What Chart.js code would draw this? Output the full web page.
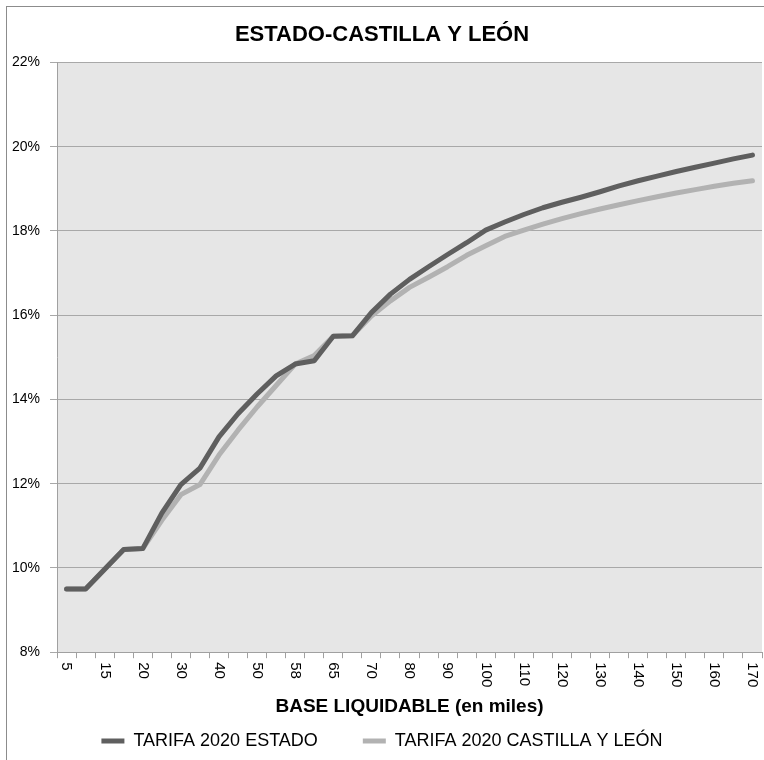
<!DOCTYPE html>
<html>
<head>
<meta charset="utf-8">
<script src="https://cdn.jsdelivr.net/npm/chart.js@4"></script>
<style>
  body { margin: 0; background: #fff; }
  #wrap { position: relative; width: 764px; height: 760px; overflow: hidden; }
  #marco { position: absolute; left: 6px; top: 6px; width: 800px; height: 800px;
           border-left: 1px solid #8c8c8c; border-top: 1px solid #8c8c8c; pointer-events: none; }
</style>
</head>
<body>
<div id="wrap">
  <canvas id="grafica" width="764" height="760"></canvas>
  <div id="marco"></div>
</div>
<script>
// Base liquidable (miles de euros); solo se rotulan las posiciones pares
const bases = ['5', '10', '15', '17,7', '20', '25', '30', '35', '40', '45', '50', '53,4', '58', '60', '65', '67', '70', '75',
    '80', '85', '90', '95', '100', '105', '110', '115', '120', '125', '130', '135', '140', '145', '150', '155', '160', '165', '170'];

// Tipo medio (%)
const tarifaEstado = [9.5, 9.5, 9.97, 10.44, 10.46, 11.3, 11.98, 12.37, 13.11, 13.66, 14.13, 14.56, 14.84, 14.92, 15.5, 15.51,
    16.06, 16.5, 16.85, 17.15, 17.44, 17.72, 18.02, 18.21, 18.39, 18.55, 18.68, 18.8, 18.93, 19.07, 19.19, 19.3, 19.41,
    19.51, 19.61, 19.71, 19.8];
const tarifaCyL = [9.5, 9.5, 9.97, 10.44, 10.46, 11.13, 11.74, 11.98, 12.68, 13.27, 13.82, 14.33, 14.84, 15.04, 15.5, 15.51,
    15.98, 16.34, 16.66, 16.9, 17.15, 17.42, 17.65, 17.87, 18.02, 18.16, 18.29, 18.41, 18.52, 18.62, 18.72, 18.81, 18.9,
    18.98, 19.06, 19.13, 19.19];

const ticksY = [8, 10, 12, 14, 16, 18, 20, 22];

const fuente = "'Liberation Sans', Arial, sans-serif";

// Fondo gris del área de trazado
const fondoArea = {
    id: 'fondoArea',
    beforeDraw(chart) {
        const { ctx, chartArea: a } = chart;
        ctx.save();
        ctx.fillStyle = '#e6e6e6';
        ctx.fillRect(a.left, a.top, a.right - a.left, a.bottom - a.top);
        ctx.restore();
    }
};

// Etiquetas del eje X giradas en sentido horario (lectura de arriba abajo)
const etiquetasX = {
    id: 'etiquetasX',
    afterDraw(chart) {
        const { ctx } = chart;
        const escala = chart.scales.x;
        ctx.save();
        ctx.fillStyle = '#000';
        ctx.font = "15px " + fuente;
        ctx.textAlign = 'left';
        ctx.textBaseline = 'middle';
        bases.forEach((b, i) => {
            if (i % 2 !== 0) return;
            const x = escala.getPixelForValue(i);
            ctx.save();
            ctx.translate(x, escala.top + 10);
            ctx.rotate(Math.PI / 2);
            ctx.fillText(b, 0, 0);
            ctx.restore();
        });
        ctx.restore();
    }
};

new Chart(document.getElementById('grafica'), {
    type: 'line',
    data: {
        labels: bases,
        datasets: [{
            label: 'TARIFA 2020 ESTADO',
            data: tarifaEstado,
            borderColor: '#5f5f5f',
            backgroundColor: '#5f5f5f',
            borderWidth: 5,
            borderCapStyle: 'round',
            borderJoinStyle: 'round',
            pointRadius: 0,
            pointStyle: 'line',
            tension: 0
        }, {
            label: 'TARIFA 2020 CASTILLA Y LEÓN',
            data: tarifaCyL,
            borderColor: '#b2b2b2',
            backgroundColor: '#b2b2b2',
            borderWidth: 5,
            borderCapStyle: 'round',
            borderJoinStyle: 'round',
            pointRadius: 0,
            pointStyle: 'line',
            tension: 0
        }]
    },
    options: {
        responsive: false,
        devicePixelRatio: 1,
        animation: false,
        layout: { padding: { left: 2, right: 2, top: 8, bottom: 0 } },
        plugins: {
            title: {
                display: true,
                text: 'ESTADO-CASTILLA Y LEÓN',
                color: '#000',
                font: { family: fuente, size: 22, weight: 'bold' },
                padding: { top: 14, bottom: 14 }
            },
            legend: {
                position: 'bottom',
                labels: {
                    usePointStyle: true,
                    pointStyleWidth: 23,
                    boxHeight: 5,
                    padding: 10,
                    color: '#000',
                    font: { family: fuente, size: 18 },
                    // separación entre las dos entradas de la leyenda
                    generateLabels: (chart) => {
                        const items = Chart.defaults.plugins.legend.labels.generateLabels(chart);
                        items[0].text = items[0].text + '       ';
                        return items;
                    }
                }
            },
            tooltip: { enabled: false }
        },
        scales: {
            x: {
                offset: true,
                grid: { display: true, offset: true, drawOnChartArea: false, drawTicks: true, tickLength: 6, color: '#a0a0a0' },
                border: { color: '#a0a0a0' },
                ticks: { display: false, autoSkip: false },
                title: {
                    display: true,
                    text: 'BASE LIQUIDABLE (en miles)',
                    color: '#000',
                    font: { family: fuente, size: 19, weight: 'bold' },
                    padding: { top: 37, bottom: 4 }
                }
            },
            y: {
                min: ticksY[0],
                max: ticksY[ticksY.length - 1],
                afterBuildTicks: (s) => { s.ticks = ticksY.map(v => ({ value: v })); },
                grid: { color: '#a8a8a8', tickLength: 7, lineWidth: 1 },
                border: { color: '#a0a0a0' },
                ticks: {
                    color: '#000',
                    padding: 10,
                    font: { family: fuente, size: 14 },
                    callback: (v) => v + '%'
                }
            }
        }
    },
    plugins: [fondoArea, etiquetasX]
});
</script>
</body>
</html>
